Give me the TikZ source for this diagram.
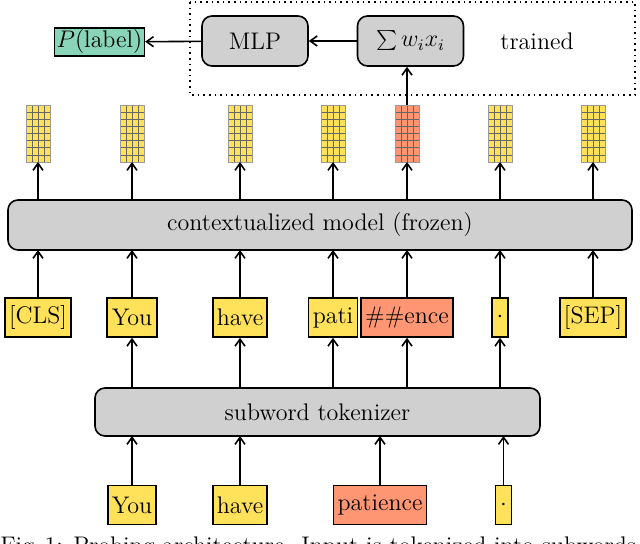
\documentclass[tikz,border=0pt]{standalone}
\usetikzlibrary{arrows.meta}
\definecolor{tokY}{HTML}{FFE15A}
\definecolor{tokR}{HTML}{FF9673}
\definecolor{tokG}{HTML}{88D5B8}
\definecolor{boxG}{HTML}{D0D0D0}
\begin{document}
\begin{tikzpicture}[x=0.5pt,y=-0.5pt,
  tok/.style={draw,thick,fill=tokY,minimum height=19.5pt,inner sep=2pt,font=\large},
  big/.style={draw,thick,rounded corners=5pt,fill=boxG,font=\large},
  arr/.style={-{Straight Barb[length=3.5pt,width=5pt]},thick},
  grid/.pic={\fill[#1] (-12,0) rectangle (12,57);
     \foreach \gx in {-6,0,6} \draw[black!60,line width=0.3pt] (\gx,0) -- (\gx,57);
     \foreach \gy in {1,...,7} \draw[black!60,line width=0.3pt] (-12,\gy*7.125) -- (12,\gy*7.125);
     \draw[black!40] (-12,0) rectangle (12,57);}]
\useasboundingbox (0,0) rectangle (640,544);
\begin{scope}
\clip (0,0) rectangle (640,544);
\node[anchor=north west,inner sep=0pt,font=\large] (cap) at (0,536) {Fig.\,1: Probing architecture. Input is tokenized into subwords and a weighted sum};
\end{scope}
% top
\draw[thick,dotted] (190,2) rectangle (635,95);
\node[draw,thick,fill=tokG,minimum width=43.5pt,minimum height=14pt,inner sep=1pt,font=\large] (pl) at (99.5,42) {$P(\mathrm{label})$};
\node[big,minimum width=53pt,minimum height=25pt] (mlp) at (255,41) {MLP};
\node[big,minimum width=53pt,minimum height=25pt] (sum) at (410.5,41) {$\sum w_ix_i$};
\node[font=\large] (tr) at (537,41) {trained};
\draw[arr] (mlp) -- (pl);
\draw[arr] (sum) -- (mlp);
% grids
\foreach \x/\c [count=\i] in {38/tokY,132/tokY,240/tokY,333/tokY,407/tokR,500/tokY,593/tokY}
  {\pic at (\x,105) {grid=\c}; \coordinate (g\i) at (\x,162);}
\coordinate (gt) at (407,105);
\draw[arr] (gt) -- (gt |- sum.south);
% model
\node[big,minimum width=312pt,minimum height=25pt] (model) at (320,225) {contextualized model (frozen)};
\foreach \x [count=\i] in {38,132,240,333,407,500,593}
  {\coordinate (m\i) at (\x,200); \draw[arr] (m\i) -- (g\i);}
% subword tokens
\node[tok,minimum width=31pt] (t1) at (38,317.5) {[CLS]};
\node[tok,minimum width=25pt] (t2) at (132,317.5) {You};
\node[tok,minimum width=25pt] (t3) at (240,317.5) {have};
\node[tok,minimum width=24.5pt] (t4) at (333,317.5) {pati};
\node[tok,fill=tokR,minimum width=40pt] (t5) at (407,317.5) {\#\#ence};
\node[tok,minimum width=8pt,inner sep=0pt] (t6) at (500,317.5) {$\cdot$};
\node[tok,minimum width=30pt] (t7) at (593,317.5) {[SEP]};
\foreach \i/\x in {1/38,2/132,3/240,4/333,5/407,6/500,7/593}
  {\coordinate (mb\i) at (\x,250); \draw[arr] (t\i) -- (mb\i);}
% tokenizer
\node[big,minimum width=222.5pt,minimum height=24pt] (tk) at (317.5,412) {subword tokenizer};
\foreach \i/\x in {2/132,3/240,4/333,5/407,6/500}
  {\coordinate (kt\i) at (\x,388); \draw[arr] (kt\i) -- (t\i);}
% input words
\node[tok,minimum width=24pt] (w1) at (132,505) {You};
\node[tok,minimum width=25.5pt] (w2) at (240,505) {have};
\node[tok,fill=tokR,minimum width=43pt] (w3) at (380,505) {patience};
\node[tok,minimum width=8pt,inner sep=0pt] (w4) at (503.5,505) {$\cdot$};
\foreach \i/\x in {1/132,2/240,3/380,4/503.5}
  {\coordinate (kb\i) at (\x,436); \draw[arr] (w\i) -- (kb\i);}
\end{tikzpicture}
\end{document}
